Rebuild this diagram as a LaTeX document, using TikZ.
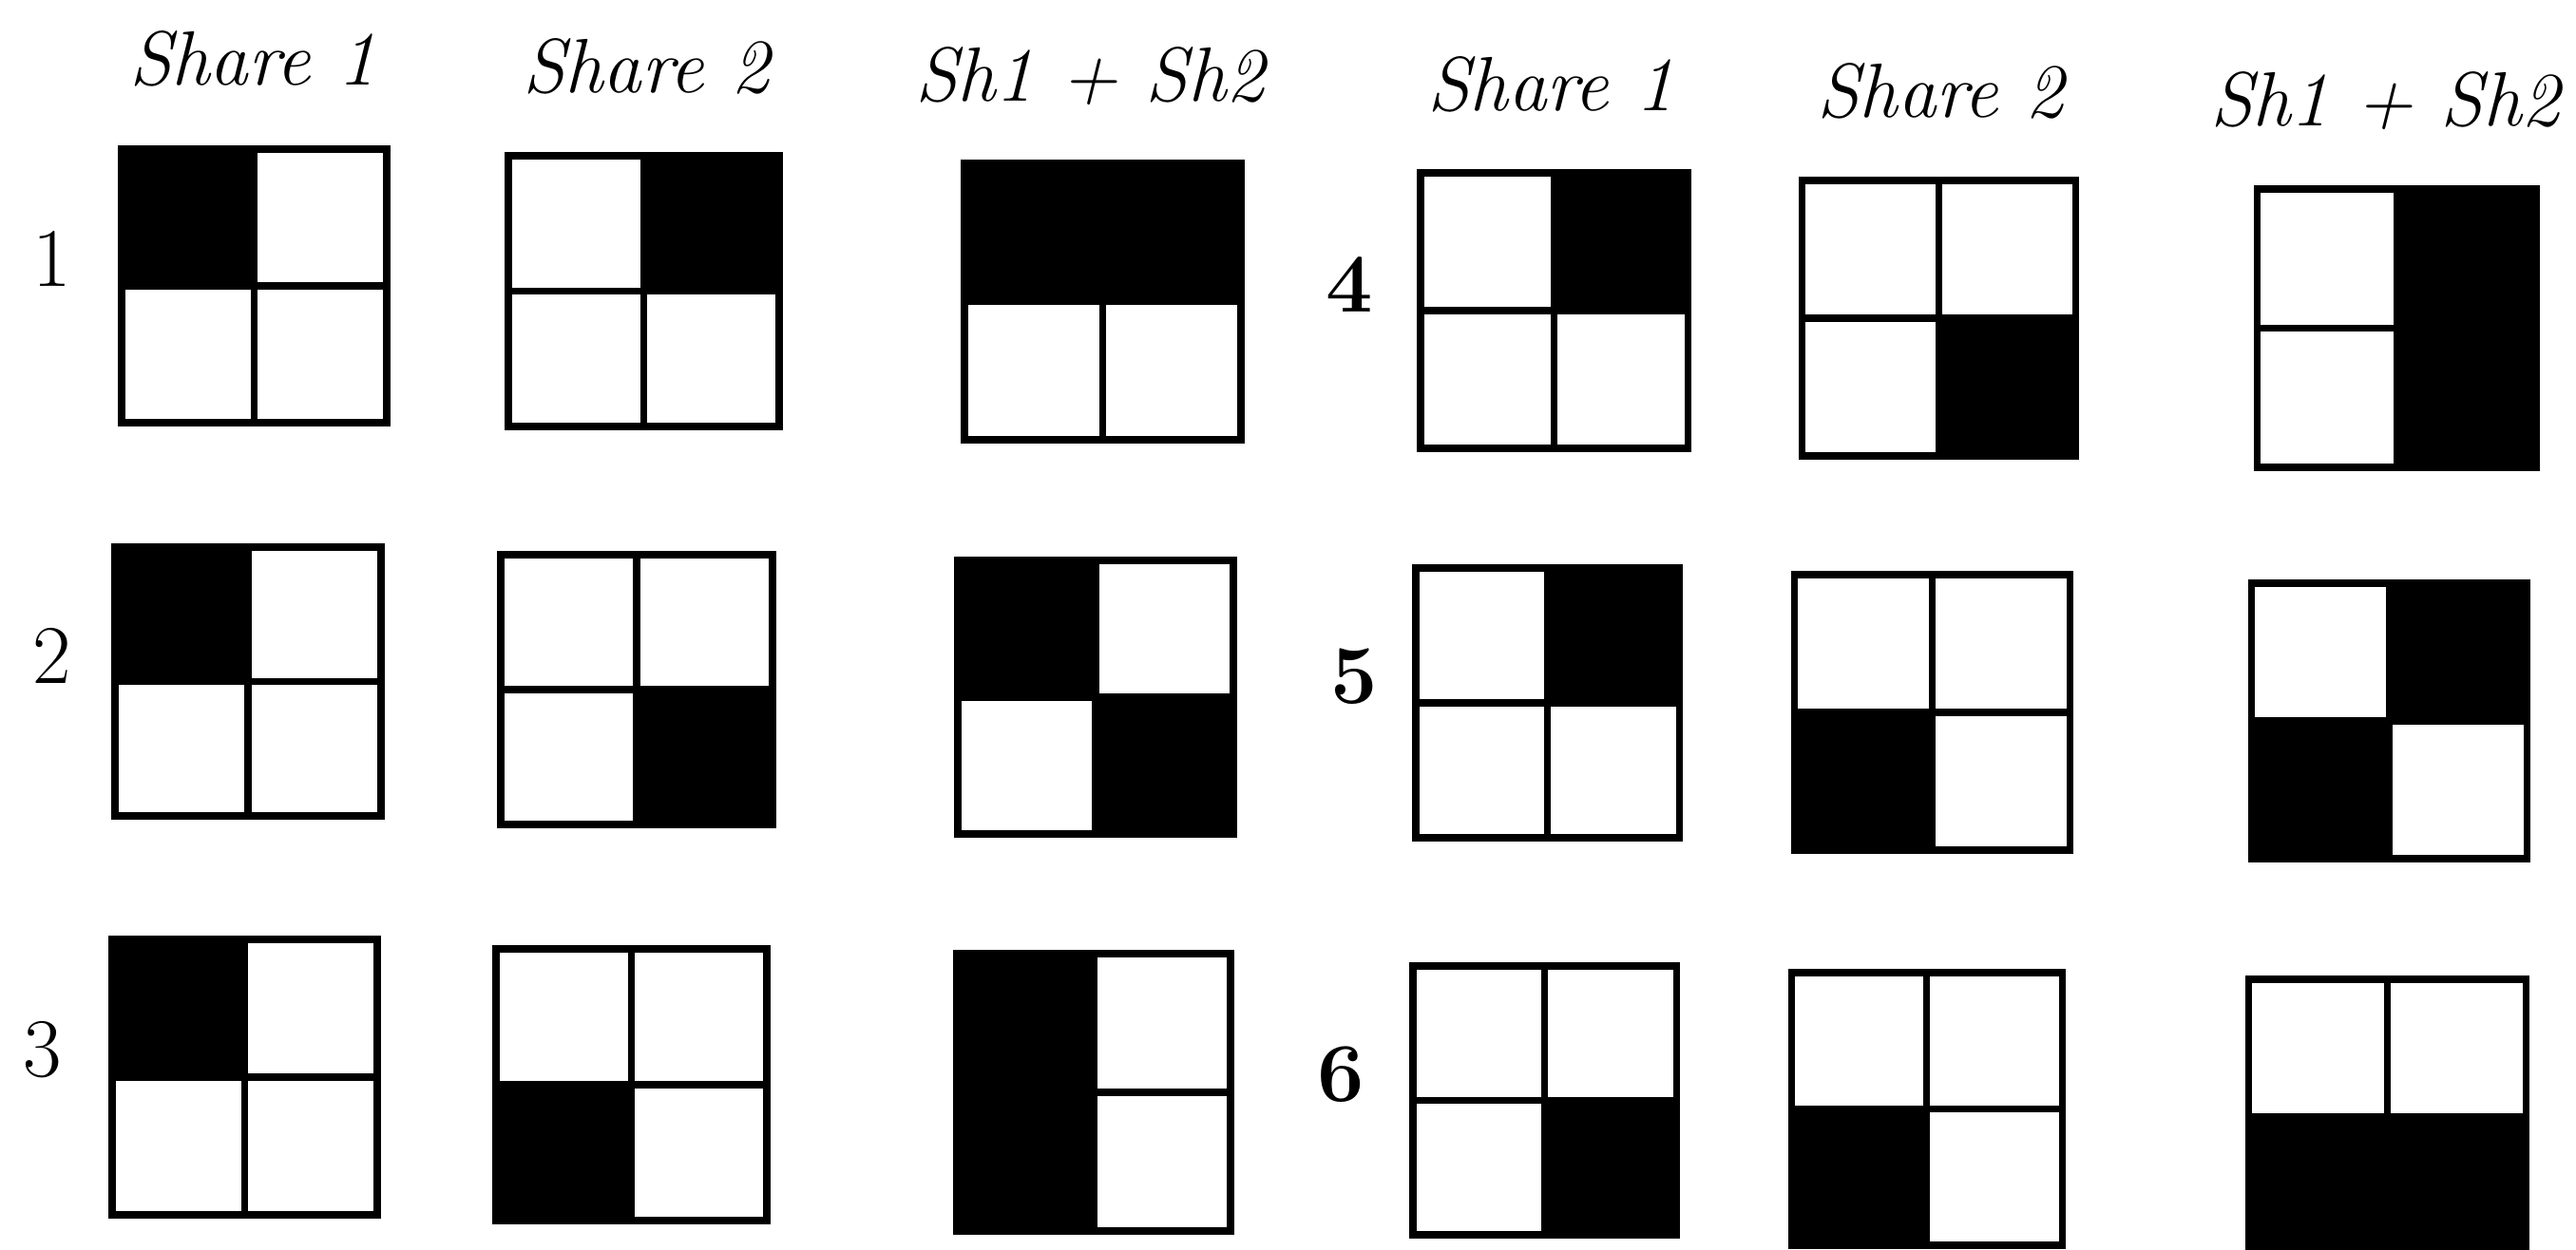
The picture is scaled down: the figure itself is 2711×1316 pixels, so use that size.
\documentclass[tikz,border=0pt]{standalone}
\usepackage{tikz}

\begin{document}
\begin{tikzpicture}[
   x=0.01cm,y=-0.01cm,
   head/.style={font=\fontsize{23}{28}\selectfont\itshape,anchor=base,inner sep=0pt},
   num/.style={font=\fontsize{25}{30}\selectfont,inner sep=0pt},
   bnum/.style={num,font=\fontsize{25}{30}\selectfont\bfseries},
   gridline/.style={line width=2pt,line join=miter}
 ]
  \useasboundingbox (0,0) rectangle (2711,1316);
  \node[head] (hsa) at (266,90) {Share 1};
  \node[head] (hsb) at (680,98) {Share 2};
  \node[head] (hsum) at (1147,107) {Sh1 + Sh2};
  \node[head] (hsa2) at (1632,117) {Share 1};
  \node[head] (hsb2) at (2042,124) {Share 2};
  \node[head] (hsum2) at (2510,133) {Sh1 + Sh2};
  \node[num] (r1) at (55,272) {1};
  \node[num] (r2) at (55,690) {2};
  \node[num] (r3) at (45,1105) {3};
  \node[bnum] (r4) at (1420,300) {4};
  \node[bnum] (r5) at (1425,712) {5};
  \node[bnum] (r6) at (1411,1131) {6};
  \foreach \l/\t/\r/\b/\blk in {
     128/157/407/445/{0/0}, 535/164/820/449/{1/0}, 1015/172/1306/463/{0/0,1/0},
     1495/182/1776/472/{1/0}, 1896/190/2184/480/{1/1}, 2375/199/2669/492/{1/0,1/1},
     121/576/401/859/{0/0}, 527/584/813/868/{1/1}, 1008/590/1298/878/{0/0,1/1},
     1490/598/1767/882/{1/0}, 1888/605/2178/895/{0/1}, 2369/614/2659/904/{1/0,0/1},
     118/989/397/1279/{0/0}, 522/999/807/1285/{0/1}, 1007/1004/1295/1296/{0/0,0/1},
     1487/1017/1764/1300/{1/1}, 1885/1024/2170/1311/{0/1}, 2366/1031/2658/1321/{0/1,1/1}}{
    \foreach \i/\j in \blk
      \fill ({\l+\i*(\r-\l)/2},{\t+\j*(\b-\t)/2}) rectangle ({\l+(\i+1)*(\r-\l)/2},{\t+(\j+1)*(\b-\t)/2});
    \draw[gridline] (\l,\t) rectangle (\r,\b)
      ({(\l+\r)/2},\t) -- ({(\l+\r)/2},\b)
      (\l,{(\t+\b)/2}) -- (\r,{(\t+\b)/2});
  }
 \end{tikzpicture}
\end{document}
